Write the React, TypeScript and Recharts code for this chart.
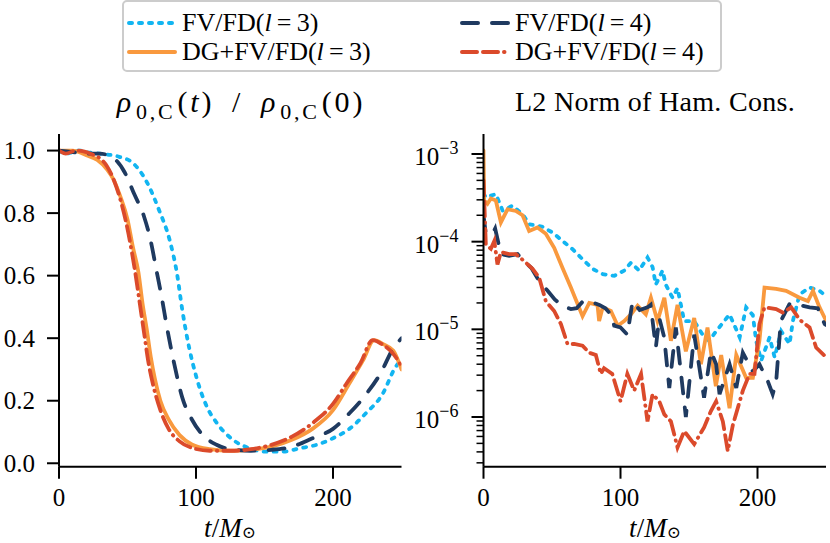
import React from 'react';
import { LineChart, Line, XAxis, YAxis } from 'recharts';

const FONT = 'Liberation Serif, DejaVu Serif, serif';

const COLORS = {
  fv3: '#12b5f1',
  fv4: '#1f3a60',
  dg3: '#f9993e',
  dg4: '#db4a2b',
};

// ---- left panel: central density rho_0,C(t) / rho_0,C(0) ----
const rhoT_fv3 = [0, 5, 10, 15, 20, 30, 44, 54, 64, 73, 81, 86, 90, 95, 100, 108, 115, 127, 139, 151, 163, 176, 188, 200, 212, 224, 236, 246, 250];
const rhoV_fv3 = [1.0, 0.99, 0.995, 1.0, 0.995, 0.99, 0.98, 0.96, 0.9, 0.81, 0.71, 0.61, 0.49, 0.37, 0.28, 0.18, 0.13, 0.075, 0.048, 0.037, 0.037, 0.048, 0.059, 0.08, 0.11, 0.16, 0.22, 0.31, 0.33];

const rhoT_fv4 = [0, 10, 20, 30, 40, 48, 55, 62, 67, 71, 75, 79, 84, 90, 97, 105, 115, 125, 140, 155, 170, 185, 200, 212, 224, 235, 243, 250];
const rhoV_fv4 = [1.0, 0.995, 0.99, 0.99, 0.975, 0.93, 0.86, 0.79, 0.71, 0.62, 0.53, 0.43, 0.32, 0.21, 0.14, 0.09, 0.059, 0.045, 0.04, 0.043, 0.053, 0.08, 0.11, 0.16, 0.22, 0.29, 0.36, 0.4];

const rhoT_dg3 = [0, 10, 20, 28, 35, 40, 45, 50, 54, 58, 61, 64, 67, 70, 74, 80, 88, 97, 110, 125, 140, 155, 170, 185, 200, 212, 222, 230, 237, 244, 250];
const rhoV_dg3 = [1.0, 1.0, 0.985, 0.97, 0.94, 0.906, 0.85, 0.78, 0.69, 0.61, 0.51, 0.43, 0.34, 0.27, 0.2, 0.14, 0.09, 0.06, 0.045, 0.04, 0.043, 0.053, 0.075, 0.11, 0.17, 0.256, 0.33, 0.394, 0.38, 0.36, 0.3];

const rhoT_dg4 = [0, 5, 12, 20, 25, 30, 35, 40, 45, 49, 53, 56, 59, 62, 65, 69, 74, 80, 88, 98, 110, 125, 140, 155, 170, 185, 200, 210, 220, 229, 236, 244, 250];
const rhoV_dg4 = [1.0, 0.99, 1.0, 0.995, 0.986, 0.975, 0.95, 0.906, 0.84, 0.77, 0.68, 0.6, 0.51, 0.42, 0.33, 0.245, 0.17, 0.11, 0.07, 0.048, 0.04, 0.04, 0.045, 0.059, 0.085, 0.128, 0.19, 0.256, 0.32, 0.394, 0.38, 0.35, 0.31];

// ---- right panel: L2 norm of Hamiltonian constraint ----
const hamT_fv3 = [0, 1.7, 9, 14, 21, 28.5, 33.3, 43, 50.4, 57.7, 65, 72.3, 79.6, 87, 95.4, 102.7, 107.6, 113.6, 119.7, 123.4, 125.8, 130.7, 133, 138, 141.6, 146.5, 153.8, 159.9, 164.7, 169.8, 179.6, 187, 191.7, 196.6, 199, 202.7, 208.8, 212.5, 217.3, 223.4, 225.8, 230.7, 238, 245.3, 250];
const hamV_fv3 = [3.55e-4, 3.2e-4, 3.49e-4, 2.25e-4, 2.57e-4, 2.06e-4, 1.58e-4, 1.48e-4, 1.27e-4, 1.02e-4, 8.2e-5, 6.3e-5, 4.9e-5, 4.27e-5, 4.07e-5, 4.68e-5, 5.75e-5, 4.68e-5, 6.6e-5, 5.13e-5, 3.24e-5, 4.68e-5, 3.24e-5, 2.29e-5, 2.95e-5, 1.24e-5, 1.24e-5, 8.7e-6, 7.4e-6, 9.5e-6, 1.48e-5, 8.1e-6, 1.78e-5, 1.45e-5, 7.4e-6, 4.4e-6, 8.1e-6, 4.8e-6, 9.5e-6, 6.8e-6, 1.24e-5, 2.5e-5, 3.0e-5, 2.75e-5, 2.4e-5];

const hamT_fv4 = [0, 1.7, 6.6, 8.5, 12.7, 18.7, 24.8, 29.7, 35, 40.6, 46.8, 52, 57.7, 63.8, 68, 72, 77.2, 84.6, 89, 93, 95.4, 100, 105, 108.8, 114, 119.7, 122, 125.8, 128.3, 131.9, 135.6, 140.4, 147.7, 153.8, 161, 166, 169.8, 172.3, 179.6, 184.5, 189.3, 196.6, 201.4, 207.5, 211.1, 213.6, 217, 223.4, 230, 238, 244, 249, 250];
const hamV_fv4 = [2.0e-4, 1.23e-4, 1.23e-4, 1.41e-4, 7.2e-5, 6.9e-5, 7.2e-5, 6.0e-5, 5.0e-5, 3.55e-5, 2.75e-5, 2.19e-5, 1.86e-5, 1.7e-5, 1.74e-5, 2.04e-5, 2.09e-5, 1.9e-5, 1.74e-5, 1.48e-5, 1.1e-5, 1.05e-5, 8.7e-6, 2.09e-5, 1.66e-5, 1.78e-5, 1.9e-5, 6.2e-6, 1.35e-5, 8.1e-6, 2.14e-6, 1.05e-5, 1.0e-6, 8.7e-6, 1.66e-6, 5.6e-6, 4.0e-6, 1.82e-6, 4.0e-6, 2.14e-6, 5.4e-6, 3.3e-6, 4.0e-6, 2.57e-6, 1.82e-6, 2.5e-6, 1.24e-5, 1.95e-5, 1.9e-5, 1.78e-5, 1.74e-5, 1.15e-5, 1.12e-5];

const hamT_dg3 = [0, 0.5, 2.9, 5.4, 9, 12.7, 17.5, 23.6, 28.5, 33.3, 39.4, 45.5, 51.6, 57.7, 63.8, 72.3, 77.2, 83.2, 84.4, 87, 93, 98, 102.7, 107.6, 112.5, 118.5, 122.2, 127, 132, 136.8, 141.6, 147.7, 153.8, 158.7, 163.5, 169.6, 173.5, 179.6, 184.5, 191.7, 196.6, 201.4, 205.1, 213.6, 220.9, 230.7, 236.8, 240.5, 245.3, 250];
const hamV_dg3 = [1.1e-3, 2.95e-4, 2.7e-4, 3.1e-4, 2.95e-4, 1.66e-4, 2.34e-4, 2.24e-4, 2.0e-4, 1.32e-4, 1.45e-4, 1.23e-4, 8.5e-5, 5.0e-5, 3.0e-5, 1.41e-5, 2.0e-5, 1.9e-5, 1.24e-5, 1.78e-5, 1.62e-5, 1.1e-5, 1.24e-5, 1.48e-5, 1.86e-5, 1.48e-5, 2.29e-5, 1.24e-5, 2.29e-5, 7.4e-6, 1.9e-5, 5.6e-6, 1.35e-5, 4.0e-6, 1.05e-5, 2.24e-6, 5.1e-6, 1.26e-6, 5.1e-6, 2.8e-6, 2.8e-6, 7.4e-6, 3.0e-5, 2.9e-5, 2.75e-5, 2.29e-5, 2.1e-5, 2.75e-5, 1.78e-5, 1.26e-5];

const hamT_dg4 = [0, 1.7, 5.4, 7.9, 10.2, 12.7, 18.7, 23.6, 29.7, 35.8, 40.6, 45.5, 51.6, 56.5, 61.3, 66.2, 72.3, 77.2, 82, 85.6, 88, 94, 100, 105, 110, 115, 119.7, 123.4, 128.3, 132, 136.8, 141.6, 146.5, 153.8, 161, 166, 169.8, 174.7, 178.3, 182, 189.3, 194.2, 197.8, 201.4, 205.1, 213.6, 218.5, 224.6, 230.7, 238, 242.8, 249, 250];
const hamV_dg4 = [5.0e-4, 9.3e-5, 8.3e-5, 1.02e-4, 5.5e-5, 7.6e-5, 7.2e-5, 7.2e-5, 6.0e-5, 4.9e-5, 3.9e-5, 2.09e-5, 1.62e-5, 1.15e-5, 6.8e-6, 6.8e-6, 6.5e-6, 5.4e-6, 5.1e-6, 3.1e-6, 3.6e-6, 3.1e-6, 1.51e-6, 3.1e-6, 2.0e-6, 3.1e-6, 8.9e-7, 1.82e-6, 1.51e-6, 1.07e-6, 8.9e-7, 4.5e-7, 6.9e-7, 4.9e-7, 7.6e-7, 1.17e-6, 1.51e-6, 8.9e-7, 4.1e-7, 8.1e-7, 2.0e-6, 3.1e-6, 3.1e-6, 1.15e-5, 1.78e-5, 1.7e-5, 1.55e-5, 1.78e-5, 1.29e-5, 1.05e-5, 6.2e-6, 5.0e-6, 4.8e-6];

const xTicks = [0, 100, 200];
const rhoTicks = [0, 0.2, 0.4, 0.6, 0.8, 1.0];
const logDecades = [-6, -5, -4, -3];

const zip = (t: number[], v: number[]) => t.map((x, i) => ({ t: x, v: v[i] }));

const series = [
  { key: 'fv3', name: 'FV/FD', lev: '3', color: COLORS.fv3, dash: '3 7', rho: zip(rhoT_fv3, rhoV_fv3), ham: zip(hamT_fv3, hamV_fv3) },
  { key: 'dg3', name: 'DG+FV/FD', lev: '3', color: COLORS.dg3, dash: undefined, rho: zip(rhoT_dg3, rhoV_dg3), ham: zip(hamT_dg3, hamV_dg3) },
  { key: 'fv4', name: 'FV/FD', lev: '4', color: COLORS.fv4, dash: '16 14', rho: zip(rhoT_fv4, rhoV_fv4), ham: zip(hamT_fv4, hamV_fv4) },
  { key: 'dg4', name: 'DG+FV/FD', lev: '4', color: COLORS.dg4, dash: '15 6 15 6 0.5 6', rho: zip(rhoT_dg4, rhoV_dg4), ham: zip(hamT_dg4, hamV_dg4) },
];

// minor + major ticks for log axis
const logTicks: number[] = [];
for (let e = -7; e <= -3; e++) {
  for (let m = 1; m <= 9; m++) {
    const v = m * Math.pow(10, e);
    if (v >= 2.8e-7 && v <= 1.01e-3) logTicks.push(v);
  }
}
const logDomain = [Math.pow(10, -6.567), Math.pow(10, -2.772)];

const svgText = { fontFamily: 'Liberation Serif', fontSize: 25 };

const LogTick = (props: any) => {
  const { x, y, payload } = props;
  const lg = Math.log10(payload.value);
  const e = Math.round(lg);
  const major = Math.abs(lg - e) < 1e-6 && logDecades.includes(e);
  return (
    <g>
      <line x1={x - (major ? 12 : 7)} x2={x} y1={y} y2={y} stroke="#000" strokeWidth={major ? 2 : 1.5} />
      {major && (
        <text x={x - 25} y={y + 11} textAnchor="end" fill="#000" style={svgText}>
          10<tspan dy={-11} style={{ fontSize: 18 }}>{'\u2212' + (-e)}</tspan>
        </text>
      )}
    </g>
  );
};

const XTick = (props: any) => {
  const { x, y, payload } = props;
  return (
    <text x={x} y={y + 16.5} textAnchor="middle" fill="#000" style={svgText}>
      {payload.value}
    </text>
  );
};

const YTick = (props: any) => {
  const { x, y, payload } = props;
  return (
    <text x={x} y={y + 8.5} textAnchor="end" fill="#000" style={svgText}>
      {Number(payload.value).toFixed(1)}
    </text>
  );
};

const axisLineStyle = { stroke: '#000', strokeWidth: 2 };

const XLabel = ({ center }: { center: number }) => (
  <div style={{ position: 'absolute', left: center - 60, width: 120, top: 513, height: 30, textAlign: 'center', fontSize: 27, lineHeight: '30px' }}>
    <i>t</i>/<i>M</i>
    <span style={{ fontSize: 17, position: 'relative', top: 1 }}>{'\u2299'}</span>
  </div>
);

const LegendSample = ({ color, dash }: { color: string; dash?: string }) => (
  <svg width={50} height={10} style={{ display: 'block' }}>
    <line x1={2} x2={48} y1={5} y2={5} stroke={color} strokeWidth={4} strokeDasharray={dash} strokeLinecap="round" />
  </svg>
);

const LegendBox = () => {
  const pos = [
    { left: 3, top: 6 },
    { left: 3, top: 35 },
    { left: 336, top: 6 },
    { left: 336, top: 35 },
  ];
  return (
    <div style={{ position: 'absolute', left: 122, top: 0, width: 600, height: 72, boxSizing: 'border-box', border: '2px solid #cccccc', borderRadius: 5, background: '#fff' }}>
      {series.map((s, i) => (
        <div key={s.key} style={{ position: 'absolute', left: pos[i].left, top: pos[i].top, height: 30, display: 'flex', alignItems: 'center', fontSize: 26, lineHeight: '30px', whiteSpace: 'nowrap' }}>
          <LegendSample color={s.color} dash={s.dash} />
          <span style={{ marginLeft: 5 }}>
            {s.name}(<i>l</i>{'\u2009=\u2009'}{s.lev})
          </span>
        </div>
      ))}
    </div>
  );
};

const sub = { fontSize: 22, position: 'relative' as const, top: 7, margin: '0 2px' };

export default function App() {
  return (
    <div style={{ position: 'absolute', left: 0, top: 0, width: 830, height: 543, background: '#fff', fontFamily: FONT, color: '#000' }}>
      <LegendBox />

      <div style={{ position: 'absolute', left: 0, width: 482, top: 87, textAlign: 'center', fontSize: 30, lineHeight: '30px', whiteSpace: 'nowrap', letterSpacing: 2.8 }}>
        <i>ρ</i>
        <span style={sub}>0,C</span>(<i>t</i>){'\u2002/\u2002'}<i>ρ</i>
        <span style={sub}>0,C</span>(0)
      </div>
      <div style={{ position: 'absolute', left: 455, width: 400, top: 88, textAlign: 'center', fontSize: 28, lineHeight: '28px', whiteSpace: 'nowrap', letterSpacing: 0.3 }}>
        L2 Norm of Ham. Cons.
      </div>

      <div style={{ position: 'absolute', left: 0, top: 0 }}>
        <LineChart width={412} height={543} margin={{ top: 134, right: 10.5, bottom: 0, left: 0 }}>
          <XAxis dataKey="t" type="number" domain={[0, 250]} ticks={xTicks} allowDataOverflow height={76.3}
            tick={<XTick />} tickSize={12} tickMargin={11} tickLine={axisLineStyle} axisLine={axisLineStyle} />
          <XAxis xAxisId="top" orientation="top" type="number" domain={[0, 250]} height={0} tick={false} tickLine={false} axisLine={axisLineStyle} />
          <YAxis type="number" domain={[-0.011, 1.053]} ticks={rhoTicks} allowDataOverflow width={59}
            tick={<YTick />} tickSize={12} tickMargin={12} tickLine={axisLineStyle} axisLine={axisLineStyle} />
          <YAxis yAxisId="r" orientation="right" type="number" domain={[0, 1]} width={0} tick={false} tickLine={false} axisLine={axisLineStyle} />
          {series.map((s) => (
            <Line key={s.key} data={s.rho} dataKey="v" type="monotone" stroke={s.color} strokeWidth={3.8}
              strokeDasharray={s.dash} strokeLinecap="round" dot={false} activeDot={false} isAnimationActive={false} />
          ))}
        </LineChart>
      </div>

      <div style={{ position: 'absolute', left: 400, top: 0 }}>
        <LineChart width={430} height={543} margin={{ top: 134, right: 4, bottom: 0, left: 0 }}>
          <XAxis dataKey="t" type="number" domain={[0, 250]} ticks={xTicks} allowDataOverflow height={76.3}
            tick={<XTick />} tickSize={12} tickMargin={11} tickLine={axisLineStyle} axisLine={axisLineStyle} />
          <XAxis xAxisId="top" orientation="top" type="number" domain={[0, 250]} height={0} tick={false} tickLine={false} axisLine={axisLineStyle} />
          <YAxis type="number" scale="log" domain={logDomain} ticks={logTicks} allowDataOverflow width={83.5}
            tick={<LogTick />} tickSize={0} tickMargin={0} tickLine={false} axisLine={axisLineStyle} interval={0} />
          <YAxis yAxisId="r" orientation="right" type="number" domain={[0, 1]} width={0} tick={false} tickLine={false} axisLine={axisLineStyle} />
          {series.map((s) => (
            <Line key={s.key} data={s.ham} dataKey="v" type="linear" stroke={s.color} strokeWidth={3.8}
              strokeDasharray={s.dash} strokeLinecap="round" dot={false} activeDot={false} isAnimationActive={false} />
          ))}
        </LineChart>
      </div>

      <XLabel center={230} />
      <XLabel center={655} />
    </div>
  );
}
